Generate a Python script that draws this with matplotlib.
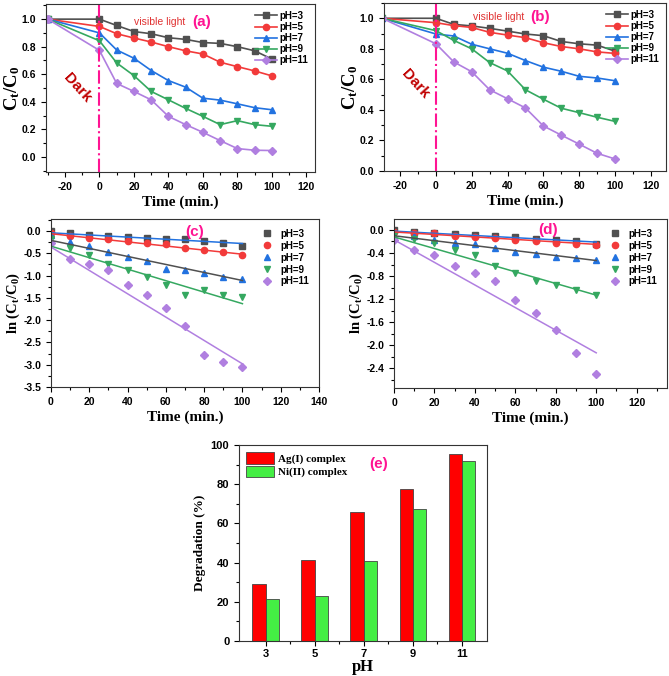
import numpy as np
import matplotlib
matplotlib.use('Agg')
import matplotlib.pyplot as plt
from matplotlib.ticker import MultipleLocator

plt.rcParams['font.family'] = 'Liberation Sans'
plt.rcParams['font.weight'] = 'bold'
plt.rcParams['axes.unicode_minus'] = False
plt.rcParams['mathtext.fontset'] = 'custom'
plt.rcParams['mathtext.rm'] = 'Liberation Serif'
plt.rcParams['mathtext.bf'] = 'Liberation Serif:bold'
plt.rcParams['mathtext.it'] = 'Liberation Serif:italic'

# ---- data ----
labels = ['pH=3', 'pH=5', 'pH=7', 'pH=9', 'pH=11']
t_ab = [-30, 0, 10, 20, 30, 40, 50, 60, 70, 80, 90, 100]
t_cd = [0, 10, 20, 30, 40, 50, 60, 70, 80, 90, 100]

# (a) Ag(I) complex, Ct/C0
a_ph3 = [1.0, 1.0, 0.954, 0.91, 0.894, 0.865, 0.853, 0.83, 0.824, 0.80, 0.77, 0.71]
a_ph5 = [1.0, 0.947, 0.894, 0.863, 0.834, 0.80, 0.77, 0.747, 0.687, 0.655, 0.624, 0.588]
a_ph7 = [1.0, 0.90, 0.776, 0.716, 0.627, 0.554, 0.506, 0.426, 0.412, 0.385, 0.357, 0.342]
a_ph9 = [1.0, 0.843, 0.682, 0.59, 0.475, 0.414, 0.352, 0.294, 0.234, 0.263, 0.234, 0.222]
a_ph11 = [1.0, 0.773, 0.533, 0.475, 0.414, 0.294, 0.234, 0.178, 0.118, 0.06, 0.048, 0.046]

# (b) Ni(II) complex, Ct/C0
b_ph3 = [1.0, 1.0, 0.96, 0.95, 0.934, 0.916, 0.897, 0.886, 0.848, 0.833, 0.824, 0.785]
b_ph5 = [1.0, 0.971, 0.952, 0.94, 0.908, 0.89, 0.873, 0.84, 0.815, 0.80, 0.78, 0.77]
b_ph7 = [1.0, 0.897, 0.884, 0.83, 0.80, 0.771, 0.723, 0.68, 0.653, 0.62, 0.609, 0.591]
b_ph9 = [1.0, 0.919, 0.855, 0.80, 0.71, 0.655, 0.532, 0.47, 0.411, 0.382, 0.352, 0.325]
b_ph11 = [1.0, 0.833, 0.714, 0.65, 0.532, 0.473, 0.413, 0.295, 0.235, 0.176, 0.116, 0.079]

# (c) ln(Ct/C0) Ag(I)
c_ph3 = [0.0, -0.05, -0.09, -0.11, -0.14, -0.16, -0.19, -0.19, -0.22, -0.26, -0.34]
c_ph5 = [-0.05, -0.11, -0.15, -0.18, -0.22, -0.26, -0.30, -0.38, -0.43, -0.48, -0.53]
c_ph7 = [-0.10, -0.25, -0.33, -0.47, -0.59, -0.68, -0.85, -0.88, -0.95, -1.03, -1.07]
c_ph9 = [-0.17, -0.38, -0.53, -0.75, -0.88, -1.04, -1.22, -1.44, -1.33, -1.44, -1.49]
c_ph11 = [-0.26, -0.63, -0.74, -0.88, -1.22, -1.44, -1.72, -2.13, -2.78, -2.93, -3.05]
c_fit_start = [-0.04, -0.06, -0.21, -0.34, -0.36]
c_fit_end = [-0.28, -0.52, -1.11, -1.63, -2.98]

# (d) ln(Ct/C0) Ni(II)
d_ph3 = [0.0, -0.04, -0.05, -0.07, -0.09, -0.11, -0.12, -0.16, -0.18, -0.19, -0.24]
d_ph5 = [-0.03, -0.05, -0.06, -0.10, -0.12, -0.14, -0.17, -0.20, -0.22, -0.25, -0.26]
d_ph7 = [-0.10, -0.11, -0.18, -0.22, -0.25, -0.32, -0.38, -0.42, -0.47, -0.49, -0.52]
d_ph9 = [-0.08, -0.15, -0.22, -0.34, -0.43, -0.63, -0.75, -0.88, -0.95, -1.04, -1.12]
d_ph11 = [-0.18, -0.34, -0.43, -0.63, -0.74, -0.88, -1.22, -1.44, -1.74, -2.14, -2.50]
d_fit_start = [-0.02, -0.035, -0.10, -0.12, -0.17]
d_fit_end = [-0.21, -0.25, -0.53, -1.13, -2.13]
fit_t = [0, 100]

# (e) degradation
ph_cats = ['3', '5', '7', '9', '11']
deg_ag = [29, 41.5, 66, 77.5, 95.5]
deg_ni = [21.5, 23, 41, 67.5, 92]

# ---- style ----
colors = ['#505050', '#f23a3a', '#2272e0', '#35a860', '#b07fe0']
markers = ['s', 'o', '^', 'v', 'D']
fit_colors = ['#2272e0', '#f23a3a', '#505050', '#35a860', '#b07fe0']
pink = '#ff1493'

W, H = 669, 676
fig = plt.figure(figsize=(W / 100, H / 100), dpi=100)


def ax_at(l, t, r, b):
    return fig.add_axes([l / W, 1 - b / H, (r - l) / W, (b - t) / H])


def style_ax(ax):
    ax.tick_params(which='both', direction='out', top=False, right=False,
                   labelsize=7.5, width=0.8)
    ax.tick_params(which='major', length=3.5)
    ax.tick_params(which='minor', length=2)
    for s in ax.spines.values():
        s.set_linewidth(0.8)
        s.set_color('#333333')


def xlabel_time(ax):
    ax.set_xlabel('Time (min.)', family='Liberation Serif', fontsize=11,
                  weight='bold', labelpad=3)


def kinetic_panel(ax, series, tag, ylim, major, minor, xlim, xstep,
                  text_xy, dark_xy):
    for ys, c, m, lab in zip(series, colors, markers, labels):
        ax.plot(t_ab, ys, color=c, marker=m, ms=4.5, lw=1.2, label=lab)
    ax.axvline(0, color=pink, lw=1.5, ls='-.')
    ax.set_xlim(*xlim)
    ax.set_ylim(*ylim)
    ax.xaxis.set_major_locator(MultipleLocator(xstep))
    ax.xaxis.set_minor_locator(MultipleLocator(xstep / 2))
    ax.yaxis.set_major_locator(MultipleLocator(major))
    ax.yaxis.set_minor_locator(MultipleLocator(minor))
    style_ax(ax)
    xlabel_time(ax)
    ax.set_ylabel(r'$\mathbf{C_t/C_0}$', fontsize=13.5, labelpad=0)
    ax.text(35, text_xy[1], 'visible light', color='#e03030', fontsize=7.5,
            weight='normal', ha='center', va='center')
    ax.text(text_xy[0], text_xy[1], tag, color=pink, fontsize=11,
            weight='bold', ha='center', va='center')
    ax.text(dark_xy[0], dark_xy[1], 'Dark', color='#c00000', fontsize=11,
            weight='bold', rotation=-48, ha='center', va='center')
    ax.legend(loc='upper right', fontsize=7, frameon=False, handlelength=2.2,
              handletextpad=0.3, labelspacing=0.12, borderaxespad=0.3)


def ln_panel(ax, series, starts, ends, tag, xlim, ylim, ystep, tag_xy):
    for ys, c, m, lab in zip(series, colors, markers, labels):
        ax.plot(t_cd, ys, ls='none', color=c, marker=m, ms=4.5, label=lab)
    for y0, y1, c in zip(starts, ends, fit_colors):
        ax.plot(fit_t, [y0, y1], color=c, lw=1.1)
    ax.set_xlim(*xlim)
    ax.set_ylim(*ylim)
    ax.xaxis.set_major_locator(MultipleLocator(20))
    ax.xaxis.set_minor_locator(MultipleLocator(10))
    ax.yaxis.set_major_locator(MultipleLocator(ystep))
    ax.yaxis.set_minor_locator(MultipleLocator(ystep / 2))
    style_ax(ax)
    xlabel_time(ax)
    ax.set_ylabel(r'$\mathbf{ln\ (C_t/C_0)}$', fontsize=10.5, labelpad=1)
    ax.text(tag_xy[0], tag_xy[1], tag, color=pink, fontsize=11,
            weight='bold', ha='center', va='center')
    ax.legend(loc='upper right', fontsize=7, frameon=False, handlelength=1.2,
              handletextpad=0.8, labelspacing=0.2, borderaxespad=0.6)


ax_a = ax_at(46, 4, 315, 172)
kinetic_panel(ax_a, [a_ph3, a_ph5, a_ph7, a_ph9, a_ph11], '(a)',
              (-0.11, 1.11), 0.2, 0.1, (-31, 125), 20, (59, 0.98), (-13, 0.5))

ax_b = ax_at(384, 3, 666, 171)
kinetic_panel(ax_b, [b_ph3, b_ph5, b_ph7, b_ph9, b_ph11], '(b)',
              (0, 1.1), 0.2, 0.1, (-29, 128.5), 20, (58, 1.01), (-11.5, 0.57))

ax_c = ax_at(51, 219, 319, 387)
ln_panel(ax_c, [c_ph3, c_ph5, c_ph7, c_ph9, c_ph11], c_fit_start, c_fit_end,
         '(c)', (0, 140), (-3.5, 0.27), 0.5, (75, -0.02))

ax_d = ax_at(394, 219, 667, 388)
ln_panel(ax_d, [d_ph3, d_ph5, d_ph7, d_ph9, d_ph11], d_fit_start, d_fit_end,
         '(d)', (0, 135), (-2.74, 0.19), 0.4, (76, 0.0))

# (e) bar chart
ax_e = ax_at(239, 445, 487, 641)
x = np.arange(len(ph_cats))
bw = 0.27
ax_e.bar(x - bw / 2, deg_ag, bw, color='#ff0000', edgecolor='#444444',
         lw=0.6, label='Ag(I) complex')
ax_e.bar(x + bw / 2, deg_ni, bw, color='#44ee44', edgecolor='#444444',
         lw=0.6, label='Ni(II) complex')
ax_e.set_xticks(x)
ax_e.set_xticklabels(ph_cats)
ax_e.set_xlim(-0.54, 4.51)
ax_e.set_ylim(0, 100)
ax_e.yaxis.set_major_locator(MultipleLocator(20))
ax_e.yaxis.set_minor_locator(MultipleLocator(10))
ax_e.set_xticks(x[:-1] + 0.5, minor=True)
style_ax(ax_e)
ax_e.tick_params(labelsize=8)
ax_e.tick_params(axis='x', pad=2)
ax_e.set_xlabel('pH', family='Liberation Serif', fontsize=12, weight='bold',
                labelpad=0.5)
ax_e.set_ylabel('Degradation (%)', family='Liberation Serif', fontsize=9.5,
                weight='bold', labelpad=3)
ax_e.text(2.3, 90.5, '(e)', color=pink, fontsize=11, weight='bold',
          ha='center', va='center')
leg = ax_e.legend(loc='upper left', frameon=False, handlelength=2.5,
                  handleheight=1.2, handletextpad=0.4, labelspacing=0.15,
                  borderaxespad=0.25,
                  prop={'family': 'Liberation Serif', 'weight': 'bold',
                        'size': 8})

fig.savefig('out.png', dpi=100, facecolor='white')
